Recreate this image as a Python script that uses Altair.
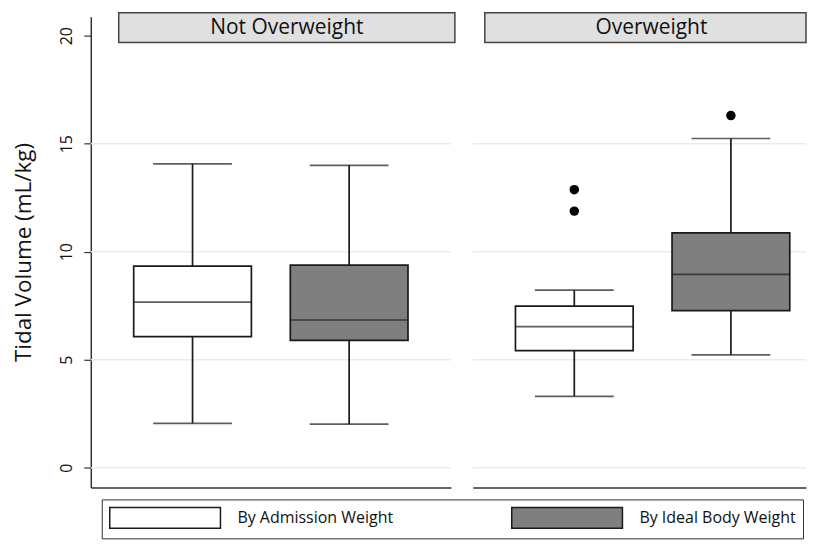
import altair as alt
import pandas as pd

# ---- data ----
panels = ["Not Overweight", "Not Overweight", "Overweight", "Overweight"]
series = ["By Admission Weight", "By Ideal Body Weight",
          "By Admission Weight", "By Ideal Body Weight"]
whisker_low = [2.06, 2.02, 3.31, 5.23]
q1 = [6.07, 5.90, 5.42, 7.27]
median = [7.67, 6.84, 6.53, 8.95]
q3 = [9.33, 9.38, 7.48, 10.87]
whisker_high = [14.07, 14.00, 8.22, 15.24]

outlier_panel = ["Overweight", "Overweight", "Overweight"]
outlier_series = ["By Admission Weight", "By Admission Weight", "By Ideal Body Weight"]
outlier_value = [12.87, 11.88, 16.30]

panel_names = ["Not Overweight", "Overweight"]
series_names = ["By Admission Weight", "By Ideal Body Weight"]
series_colors = ["#ffffff", "#7f7f7f"]
y_ticks = [0, 5, 10, 15, 20]
grid_values = [0, 5, 10, 15]
y_title = "Tidal Volume (mL/kg)"

box = pd.DataFrame({"panel": panels, "series": series, "lo": whisker_low,
                    "q1": q1, "med": median, "q3": q3, "hi": whisker_high})
outl = pd.DataFrame({"panel": outlier_panel, "series": outlier_series, "v": outlier_value})
grid = pd.DataFrame({"g": grid_values})

FONT = "Open Sans"
LINE = "#1a1a1a"
yscale = alt.Scale(domain=[-0.91, 20.88], nice=False, zero=False)


def panel(name, width, pad_outer, align, strip, text_x, show_axis):
    d = box[box.panel == name]
    o = outl[outl.panel == name]
    head = pd.DataFrame({"panel": [name]})
    if show_axis:
        yaxis = alt.Axis(values=y_ticks, grid=False, labelAngle=270, labelFontSize=16,
                         labelFont=FONT, labelColor="#111", tickSize=7, tickColor="#333",
                         tickWidth=1.2, domainColor="#333", domainWidth=1.5,
                         labelPadding=9, titlePadding=23, titleFontSize=22.5,
                         titleFont=FONT, titleFontWeight="normal", titleColor="#111")
    else:
        yaxis = None
    xscale = alt.Scale(domain=series_names, paddingInner=0.2484,
                       paddingOuter=pad_outer, align=align)
    xaxis = alt.Axis(labels=False, ticks=False, title=None, grid=False,
                     domainColor="#333", domainWidth=1.5)

    def Y(f):
        return alt.Y(f, scale=yscale, axis=yaxis, title=y_title)

    def X():
        return alt.X("series:N", scale=xscale, axis=xaxis)

    grid_l = alt.Chart(grid).mark_rule(color="#e6edef", strokeWidth=1.5).encode(y=Y("g:Q"))
    whisk = alt.Chart(d).mark_rule(color=LINE, strokeWidth=1.7).encode(
        x=X(), y=Y("lo:Q"), y2="hi:Q")
    caps_lo = alt.Chart(d).mark_tick(color=LINE, thickness=1.7, size=79).encode(
        x=X(), y=Y("lo:Q"))
    caps_hi = alt.Chart(d).mark_tick(color=LINE, thickness=1.7, size=79).encode(
        x=X(), y=Y("hi:Q"))
    bars = alt.Chart(d).mark_bar(stroke=LINE, strokeWidth=1.7, opacity=1).encode(
        x=X(), y=Y("q1:Q"), y2="q3:Q",
        fill=alt.Fill("series:N", scale=alt.Scale(domain=series_names, range=series_colors),
                      legend=alt.Legend(
                          title=None, orient="none", legendX=11, legendY=484,
                          direction="horizontal", symbolType="M-1,-1H9.57V1H-1Z",
                          symbolSize=441, symbolStrokeColor=LINE, symbolStrokeWidth=1.5,
                          symbolOpacity=1, labelFont=FONT, labelFontSize=16,
                          labelColor="#111", labelOffset=106, columnPadding=115,
                          strokeColor="#333", fillColor="white", padding=7,
                          labelLimit=400)))
    meds = alt.Chart(d).mark_tick(color=LINE, thickness=1.7, size=118).encode(
        x=X(), y=Y("med:Q"))
    pts = alt.Chart(o).mark_point(filled=True, color="#000", size=90, opacity=1).encode(
        x=X(), y=Y("v:Q"))
    strip_r = alt.Chart(head).mark_rect(fill="#e0e0e0", stroke="#444", strokeWidth=1.5).encode(
        x=alt.value(strip[0]), x2=alt.value(strip[1]), y=alt.value(-4), y2=alt.value(26))
    strip_t = alt.Chart(head).mark_text(font=FONT, fontSize=21, color="#111",
                                        baseline="middle", align="center").encode(
        x=alt.value(text_x), y=alt.value(11), text="panel:N")
    return alt.layer(grid_l, whisk, caps_lo, caps_hi, bars, meds, pts, strip_r, strip_t).properties(
        width=width, height=472)


left = panel("Not Overweight", 361, 0.2739, 0.5, (28, 365), 196.5, True)
right = panel("Overweight", 334, 0.1879, 0.724, (12, 334), 179, False)

chart = alt.hconcat(left, right, spacing=16).resolve_scale(
    x="independent", y="shared", fill="shared"
).properties(
    padding={"left": 5, "top": 3, "right": 0, "bottom": 0},
    background="white",
).configure_view(stroke=None)

chart.save("out.html", embed_options={"renderer": "svg", "actions": False})
